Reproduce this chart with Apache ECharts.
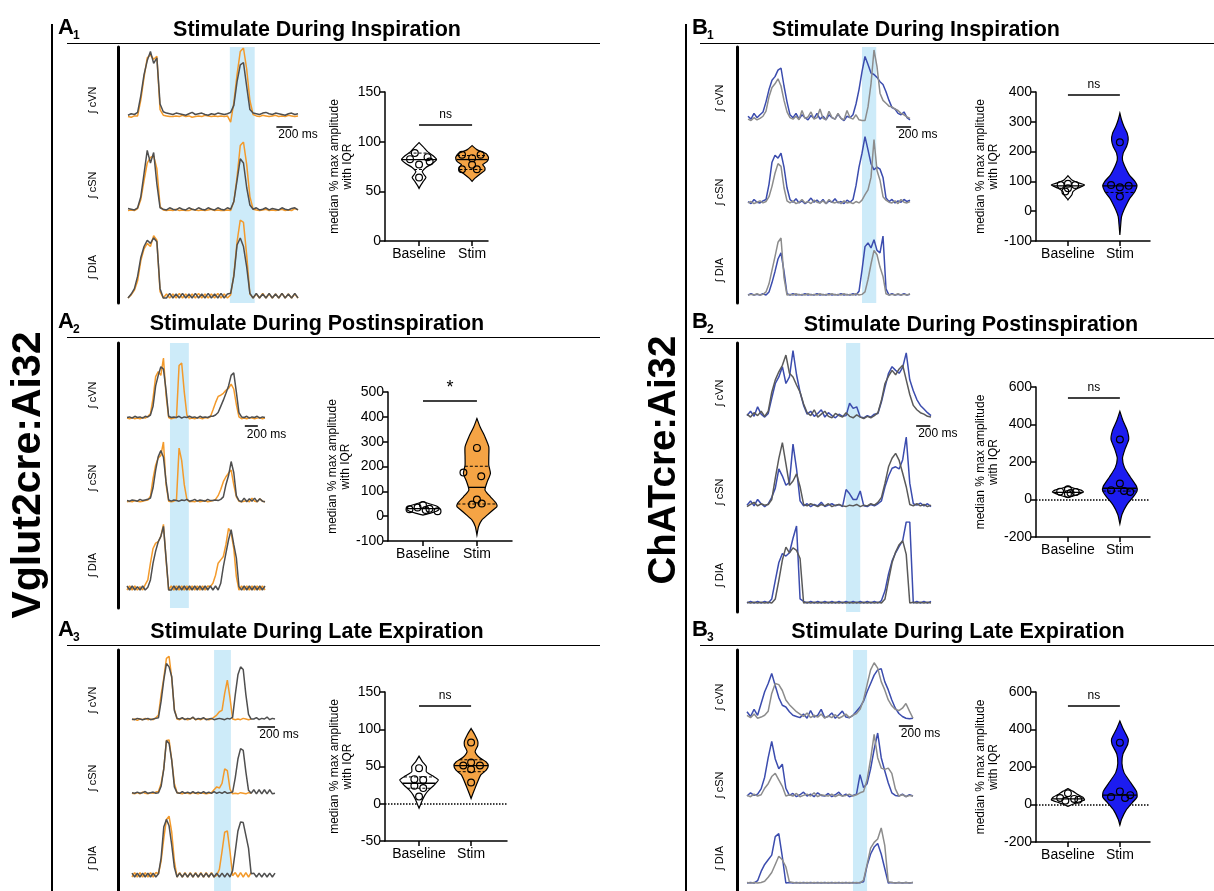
<!DOCTYPE html>
<html lang="en">
<head>
<meta charset="UTF-8">
<title>Optogenetic stimulation – Vglut2cre:Ai32 / ChATcre:Ai32</title>
<script src="https://cdn.jsdelivr.net/npm/echarts@6/dist/echarts.min.js"></script>
<style>
  html, body { margin: 0; padding: 0; background: #fff; }
  #chart { width: 1214px; height: 891px; }
</style>
</head>
<body>
<div id="chart"></div>
<script>
// ---------------- data ----------------
// traces: amplitude 0..100 relative to each row, one sample every dt ms
var rowNames = ['\u222B cVN', '\u222B cSN', '\u222B DIA'];
var groups = ['Baseline', 'Stim'];

// A1 – stimulate during inspiration (dt 40 ms)
var a1Shade = [1270, 1580];
var a1ScaleBar = [1850, 2050];
var a1CvnStim = [2,1,3,3, 26,58,86,90,84,88,12,4, 3,2,2,3,2,4,2,3,1,2,3,2,4,3,2,3,2,3,2,3, -6,22,62,95,100,70,25,5, 3,2,4,3,2,3,4,2,3,2,4,3,2,3];
var a1CvnCtrl = [4,6,5,8, 32,62,82,95,78,86,20,9, 7,6,5,7,6,5,4,6,8,5,6,7,5,4,6,5,7,6,5,6, 8,18,52,76,79,45,12,7, 6,5,7,8,6,5,7,6,5,4,6,7,5,6];
var a1CsnStim = [2,3,2,5, 18,45,70,78,80,62,8,3, 2,3,2,4,2,3,2,2,4,3,2,3,2,3,4,2,3,2,2,3, 2,15,50,95,100,68,22,4, 3,2,3,4,2,3,2,3,4,2,3,2,5,3];
var a1CsnCtrl = [5,4,3,6, 22,55,88,70,85,40,6,4, 3,6,4,3,6,4,3,6,4,3,6,4,3,6,4,3,6,4,3,6, 4,15,45,76,70,35,10,4, 6,3,4,6,3,5,4,3,6,4,3,5,6,3];
var a1DiaStim = [0,4,10,22, 48,63,70,66,80,74,8,0, 5,0,5,0,6,0,5,0,5,0,6,0,5,0,5,0,6,0,5,0, 4,30,72,100,97,55,5,0, 5,0,6,0,5,0,5,0,6,0,5,0,5,0];
var a1DiaCtrl = [0,5,12,28, 52,66,74,70,77,72,12,0, 0,6,0,5,0,6,0,5,0,6,0,5,0,6,0,5,0,6,0,5, 6,28,68,77,66,40,6,0, 6,0,5,0,6,0,5,0,6,0,5,0,6,0];

// A2 – stimulate during postinspiration (dt 40 ms)
var a2Shade = [660, 950];
var a2ScaleBar = [1810, 2010];
var a2CvnStim = [3,2,4,2,3,2,4,3,6, 10,35,70,78,72,100,40,4, 2,3, 4,88,92,45,8,2, 3,2,4,3,2,4,3,5, 16,28,38,40,43,48,51,58,50,25,5,2, 3,2,4,3,2,3,4,2,3];
var a2CvnCtrl = [4,5,3,6,4,5,3,6,5, 8,22,55,72,86,82,48,6, 4,5, 4,6,3,5,4,6, 4,5,3,6,4,5,4,6, 6,8,12,22,32,43,55,72,76,45,12,5, 4,6,3,5,4,6,3,5,4];
var a2CsnStim = [2,3,2,4,3,2,3,4,5, 11,40,62,74,78,100,30,3, 2,3, 5,90,70,30,6,2, 3,2,4,2,3,4,2,3, 4,6,12,22,35,43,49,54,30,10,3,2, 3,4,2,8,3,2,7,3,2];
var a2CsnCtrl = [4,3,5,4,3,6,4,5,6, 8,25,54,76,86,75,35,5, 3,5, 4,3,5,4,6,3, 4,6,3,5,4,3,6,4, 4,5,4,6,10,30,45,68,50,12,4,2, 8,2,7,3,8,2,7,3,2];
var a2DiaStim = [0,6,0,6,0,5,0,8, 15,40,62,70,72,80,98,45,0, 6,0,6,0,6,0,6,0,6,0,6,0,6,0,6, 5,10,22,40,45,50,68,92,85,62,20,0, 6,0,6,0,6,0,6,0,6,0];
var a2DiaCtrl = [6,0,6,0,5,0,6,0, 4,15,40,58,72,80,95,48,0, 0,6,0,6,0,6,0,6,0,6,0,6,0,6,0, 6,0,6,0,10,35,55,75,90,68,48,5, 0,6,0,6,0,6,0,6,0,6];

// A3 – stimulate during late expiration (dt 30 ms)
var a3Shade = [930, 1120];
var a3ScaleBar = [1420, 1620];
var a3CvnStim = [2,3,1,3,2,4,2,3,2,5, 9,40,65,95,98,65,18,3, 2,4,3,2,3,5,2,3,2,4,3,2,3, 6,9,14,16,42,62,35,3, 2,3,2,4,3,2,3];
var a3CvnCtrl = [3,2,4,3,2,3,4,2,3,4, 5,30,62,87,82,67,16,4, 3,5,2,4,3,6,2,4,3,5,2,3,4,2,3,4,3,2,4,3, 6,40,70,82,78,40,10,3, 3,5,2,4,3,6,2,4,3];
var a3CsnStim = [3,2,4,2,5,3,2,4,3,5, 6,20,45,94,95,60,20,4, 3,2,4,3,2,4,3,2,4,3,2,3,4, 9,14,12,20,45,42,10,2, 3,2,4,3,2,4,3];
var a3CsnCtrl = [4,3,5,3,4,6,3,4,5,3, 4,15,45,94,89,60,14,4, 3,6,3,5,3,6,3,5,3,6,3,5,3,6,3,5,3,6,3,4, 5,30,62,80,77,40,8,3, 9,2,9,2,9,2,9,2,3];
var a3DiaStim = [0,7,0,7,0,7,0,7,0,7, 5,25,60,90,95,70,25,0, 7,0,7,0,7,0,7,0,7,0,7,0,7,0, 3,12,40,70,72,40,2, 7,0,7,0,7,0,7];
var a3DiaCtrl = [6,0,6,0,6,0,6,0,6,0, 5,30,78,90,80,50,15,0, 6,0,6,0,6,0,6,0,6,0,6,0,6,0,6,0,6,0,6,0, 10,40,72,86,85,65,45,5, 6,0,6,0,6,0,6,0,6];

// B1 – stimulate during inspiration (dt 40 ms)
var b1Shade = [1520, 1710];
var b1ScaleBar = [1975, 2175];
var b1CvnStim = [8,4,12,6,10,14, 28,45,58,63,72,75,50,28,10, 6,12,4,10,6,3,9,5,12,4,8,3,10,6,4,11,5,2,8,6,10, 25,45,70,91,80,68,66,62,56,52,42,30,20,18,12,10,14,6,3];
var b1CvnCtrl = [4,2,6,3,5,8, 15,35,48,53,60,50,30,14,6, 4,8,3,16,5,7,14,4,6,18,5,3,15,6,4,12,5,3,16,6,4,10,3,2, 2,21,53,100,77,40,30,26,22,21,18,16,12,10,7,5];
var b1CsnStim = [5,2,8,4,3,6, 8,30,62,72,68,75,55,25, 8,4,9,3,6,2,5,10,4,7,3,8,2,6,4,9,3,5,2,7,4,8, 28,55,75,99,80,60,51,55,52,40,10,5,8,3,6,4,8,5,7];
var b1CsnCtrl = [3,5,2,4,6,3, 5,12,27,46,60,56,25,6, 3,6,2,4,8,3,5,2,7,4,3,6,2,8,4,3,5,2,6,3,4,2,5,3, 7,15,22,40,95,50,36,12,7,4,3,6,2,8,4,3,5];
var b1DiaStim = [0,2,0,1,0,2,0, 5,20,38,58,68,38,2, 0,2,0,1,0,2,0,1,0,2,0,1,0,2,0,1,0,2,0,1,0,2,0, 6,40,78,84,76,89,72,68,95,10, 0,2,0,1,0,2,0,1];
var b1DiaCtrl = [0,1,0,2,0,1, 5,18,40,62,85,92,28,0, 1,0,2,0,1,0,2,0,1,0,2,0,1,0,2,0,1,0,2,0,1,0,2,0,1, 5,25,50,72,65,45,30,2, 0,1,0,2,0,1,0,2];

// B2 – stimulate during postinspiration (dt 50 ms)
var b2Shade = [1400, 1600];
var b2ScaleBar = [2390, 2590];
var b2CvnStim = [6,12,5,18,8,4, 9,30,50,59,73,50,59,95,62,38,20, 8,12,5,9,14,4,10,6,3,8,5, 6,23,16,18,4, 3,6,4,8, 9,25,45,64,73,68,64,72,92,55,40,28,20,15,10,6];
var b2CvnCtrl = [8,4,10,6,12,5, 12,38,55,66,75,89,64,59,48,38,22, 10,6,14,4,8,12,5,3,9,6,4,10,5,3,7,4,2,5,3,6, 10,27,50,60,68,62,70,75,55,35,20,14,10,8,5,4];
var b2CsnStim = [4,10,3,12,6,2, 6,15,28,55,45,32,36,90,55,10, 3,6,2,5,3,8,2,4,6,3,5,2, 26,20,12,12,24,3, 2,5,3,6,10, 30,45,56,58,55,68,100,35,6, 4,7,3,6,2];
var b2CsnCtrl = [2,5,8,3,6,4, 5,12,42,70,92,62,32,38,48,30, 5,3,6,4,2,5,3,6,2,4,5,3,2,4,3,5,2,4,3,6,4,8, 15,35,58,70,77,67,49,30,5,3, 6,3,5,2,4];
var b2DiaStim = [0,2,0,2,0,2,0, 5,28,50,61,58,62,80,95,5, 2,0,2,0,2,0,2,0,2,0,2,0,2,0,2,0,2,0,2,0,2,0, 3,15,36,52,62,70,77,100,100, 0,2,0,2,0,2];
var b2DiaCtrl = [1,0,1,0,1,0,1,0, 5,28,53,69,62,68,65,55,0, 1,0,1,0,1,0,1,0,1,0,1,0,1,0,1,0,1,0,1,0,1,0, 5,28,50,63,72,77,60,0, 1,0,1,0,1,0];

// B3 – stimulate during late expiration (dt 50 ms)
var b3Shade = [1500, 1700];
var b3ScaleBar = [2150, 2350];
var b3CvnStim = [14,6,18,8, 28,48,62,79,58,38,25,22,14,8,6, 4,10,3,16,5,8,18,4,6,12,3,9,15,5,4,8, 15,22,32,48,62,76,85,87,65,51,34,20,11,6,3,2,3];
var b3CvnCtrl = [8,4,10,3, 5,8,15,45,62,60,50,34,26,20,14, 10,6,12,4,8,5,10,3,7,4,9,3,6,10,4,8,11, 18,34,60,85,97,88,65,51,34,24,18,16,20,28,15,3];
var b3CsnStim = [3,8,4,6, 14,32,62,87,60,45,52,15, 4,7,2,5,9,3,6,2,8,4,3,7,2,5,9,3,6,2,4, 6,36,16,22,45,75,100,62,42,23,8,4, 3,6,2,5,3];
var b3CsnCtrl = [4,2,6,3, 5,15,22,33,38,28,18,3, 5,3,7,2,4,6,3,8,2,5,4,3,6,2,5,3,4,6,3,5,8, 10,28,60,98,62,46,44,46,38,14,3,5,2,4,3];
var b3DiaStim = [0,1,0, 4,20,32,40,48,80,85,45,0, 1,0,1,0,1,0,1,0,1,0,1,0,1,0,1,0,1,0,1,0,1,2, 30,50,62,68,50,25,0, 1,0,1,0,1,0,1];
var b3DiaCtrl = [1,0,1,0,1, 3,10,18,32,46,40,28,2, 1,0,1,0,1,0,1,0,1,0,1,0,1,0,1,0,1,0,1,0, 5,32,60,70,76,95,65,2, 1,0,1,0,1,0,1];

// violins: shape = [value, half width in % of group spacing], pts = [value, x offset], lines = [median, quartiles...]
var a1YTicks = [0, 50, 100, 150];
var a1BaseShape = [[99,0],[95,7.5],[90,16],[86,26],[82,33],[78,25],[74,13],[70,6],[67,9],[64,13],[60,8],[56,3],[53,0]];
var a1StimShape = [[96,0],[92,9],[88,26],[84,31],[80,28],[77,20],[74,24],[71,24],[67,14],[63,5],[60,0]];
var a1BasePts = [[88.5,-0.08],[82.4,-0.17],[84.4,0.16],[80,0.2],[77,0],[64,0]];
var a1StimPts = [[86.8,-0.19],[83.4,0],[86.8,0.16],[76.7,0],[72.3,-0.19],[72.3,0.09]];
var a1BaseLines = [82, 88.5, 72];
var a1StimLines = [82, 86, 72];
var a1Sig = ['ns', 117];

var a2YTicks = [-100, 0, 100, 200, 300, 400, 500];
var a2BaseShape = [[58,0],[50,12],[42,24],[35,29],[28,30],[20,25],[12,14],[4,0]];
var a2StimShape = [[393,0],[359,6],[319,15],[279,22],[239,22],[205,22],[172,25],[138,19],[105,15],[78,25],[51,36],[38,37],[27,31],[4,19],[-16,9],[-42,3],[-76,0]];
var a2BasePts = [[45,0],[35,-0.1],[28,-0.25],[30,0.12],[20,0.27],[25,0.05]];
var a2StimPts = [[275,0],[176,-0.25],[161,0.08],[67,0],[47,-0.09],[51,0.09]];
var a2BaseLines = [30];
var a2StimLines = [116, 201, 49];
var a2Sig = ['*', 464];

var a3YTicks = [-50, 0, 50, 100, 150];
var a3BaseShape = [[64,0],[57,6],[50,14],[43,14],[37.5,26],[32,37],[25,29],[18.6,19],[12,11.5],[5,6.4],[-1.6,2.6],[-6,0]];
var a3StimShape = [[101,0],[92,7.7],[84,12.8],[78,12.8],[70,7.7],[62,16],[56,29],[51,33],[45,29],[39,19],[30,12.8],[21,7.7],[13,3.2],[7,0]];
var a3BasePts = [[47.8,0],[33,-0.09],[32,0.08],[24,-0.09],[21,0.08],[9.6,0]];
var a3StimPts = [[82.3,0],[55.4,0],[51.3,-0.15],[51.3,0.17],[46.4,0],[28.5,0]];
var a3BaseLines = [27.5, 36, 20.8];
var a3StimLines = [51.3, 59, 43];
var a3Sig = ['ns', 131];

var b1YTicks = [-100, 0, 100, 200, 300, 400];
var b1BaseShape = [[119,0],[105,7.7],[96,19],[88,32],[77,19],[66,9.6],[55,7.7],[43,2],[38,0]];
var b1StimShape = [[329,0],[307,3.2],[285,7.7],[262,14],[240,16],[217,12.8],[195,6.4],[172,5],[150,9.6],[122,18],[100,29],[85,33],[66,29],[43,19],[27,14],[4,7.7],[-18,3.2],[-52,1.3],[-80,0]];
var b1BasePts = [[88,-0.14],[92,0],[88,0.14],[77,0],[66,-0.05]];
var b1StimPts = [[231,0],[88,-0.17],[80,0],[85,0.17],[49,0]];
var b1BaseLines = [85];
var b1StimLines = [85, 63];
var b1Sig = ['ns', 390];

var b2YTicks = [-200, 0, 200, 400, 600];
var b2BaseShape = [[70,0],[60,12],[50,25],[40,30],[30,22],[20,12],[10,0]];
var b2StimShape = [[470,0],[420,6],[370,14],[320,17],[270,10],[220,5],[170,9],[120,20],[70,32],[45,33],[15,26],[-30,13],[-80,4],[-130,0]];
var b2BasePts = [[55,0],[42,-0.15],[40,0.15],[30,0],[35,0.05]];
var b2StimPts = [[320,0],[85,0],[50,-0.17],[45,0.08],[40,0.2]];
var b2BaseLines = [38];
var b2StimLines = [60, 45];
var b2Sig = ['ns', 545];

var b3YTicks = [-200, 0, 200, 400, 600];
var b3BaseShape = [[85,0],[70,10],[55,18],[40,28],[25,32],[12,20],[0,8],[-10,0]];
var b3StimShape = [[445,0],[400,7],[350,16],[320,15],[270,6],[220,4],[170,8],[120,20],[70,32],[40,33],[10,24],[-30,12],[-80,3],[-110,0]];
var b3BasePts = [[60,0],[35,-0.15],[30,0.12],[20,-0.05],[25,0.2]];
var b3StimPts = [[330,0],[70,0],[40,-0.17],[35,0.1],[50,0.2]];
var b3BaseLines = [30];
var b3StimLines = [50];
var b3Sig = ['ns', 525];

// ---------------- styles & layout ----------------
var FONT = '"Liberation Sans", Arial, sans-serif';
var ORANGE = '#f39a2b';
var DARK_GREY = '#4f4f4f';
var BLUE = '#3b4cae';
var GREY = '#8c8c8c';
var SHADE = '#cdebf9';
var VIOLIN_ORANGE = '#f5a445';
var VIOLIN_BLUE = '#1c1cf0';

var panels = [
  { dt: 40, xMax: 2120, left: 128, width: 170, barX: 118, spanTop: 47, spanBottom: 303,
    rows: [[48, 118], [142, 212], [220, 298]], labelX: 93, labelY: [100, 185, 267],
    stim: [a1CvnStim, a1CsnStim, a1DiaStim], ctrl: [a1CvnCtrl, a1CsnCtrl, a1DiaCtrl],
    shade: a1Shade, bar: a1ScaleBar, barY: -13, stimColor: ORANGE, ctrlColor: DARK_GREY },
  { dt: 40, xMax: 2120, left: 127, width: 138, barX: 118, spanTop: 343, spanBottom: 608,
    rows: [[358, 420], [442, 503], [523, 590]], labelX: 93, labelY: [395, 478, 565],
    stim: [a2CvnStim, a2CsnStim, a2DiaStim], ctrl: [a2CvnCtrl, a2CsnCtrl, a2DiaCtrl],
    shade: a2Shade, bar: a2ScaleBar, barY: -10, stimColor: ORANGE, ctrlColor: DARK_GREY },
  { dt: 30, xMax: 1620, left: 132, width: 143, barX: 118, spanTop: 650, spanBottom: 891,
    rows: [[655, 721], [737, 795], [813, 877]], labelX: 93, labelY: [700, 778, 858],
    stim: [a3CvnStim, a3CsnStim, a3DiaStim], ctrl: [a3CvnCtrl, a3CsnCtrl, a3DiaCtrl],
    shade: a3Shade, bar: a3ScaleBar, barY: -8, stimColor: ORANGE, ctrlColor: DARK_GREY },
  { dt: 40, xMax: 2200, left: 748, width: 165, barX: 737, spanTop: 47, spanBottom: 303,
    rows: [[50, 122], [136, 205], [233, 295]], labelX: 720, labelY: [98, 192, 270],
    stim: [b1CvnStim, b1CsnStim, b1DiaStim], ctrl: [b1CvnCtrl, b1CsnCtrl, b1DiaCtrl],
    shade: b1Shade, bar: b1ScaleBar, barY: -7, stimColor: BLUE, ctrlColor: GREY },
  { dt: 50, xMax: 2600, left: 747, width: 184, barX: 737, spanTop: 343, spanBottom: 612,
    rows: [[347, 420], [437, 508], [522, 603]], labelX: 720, labelY: [393, 492, 575],
    stim: [b2CvnStim, b2CsnStim, b2DiaStim], ctrl: [b2CvnCtrl, b2CsnCtrl, b2DiaCtrl],
    shade: b2Shade, bar: b2ScaleBar, barY: -8, stimColor: BLUE, ctrlColor: '#5a5a5a' },
  { dt: 50, xMax: 2350, left: 747, width: 166, barX: 737, spanTop: 650, spanBottom: 891,
    rows: [[661, 720], [733, 798], [825, 883]], labelX: 720, labelY: [697, 785, 858],
    stim: [b3CvnStim, b3CsnStim, b3DiaStim], ctrl: [b3CvnCtrl, b3CsnCtrl, b3DiaCtrl],
    shade: b3Shade, bar: b3ScaleBar, barY: -9, stimColor: BLUE, ctrlColor: GREY }
];

var violins = [
  { left: 385, top: 92, width: 103, height: 149, xMin: 0.358, xMax: 2.30, ticks: a1YTicks,
    shapes: [a1BaseShape, a1StimShape], pts: [a1BasePts, a1StimPts], lines: [a1BaseLines, a1StimLines],
    sig: a1Sig, zero: false, fill: ['#fff', VIOLIN_ORANGE] },
  { left: 388, top: 392, width: 124, height: 149, xMin: 0.352, xMax: 2.65, ticks: a2YTicks,
    shapes: [a2BaseShape, a2StimShape], pts: [a2BasePts, a2StimPts], lines: [a2BaseLines, a2StimLines],
    sig: a2Sig, zero: false, fill: ['#fff', VIOLIN_ORANGE] },
  { left: 385, top: 692, width: 122, height: 149, xMin: 0.346, xMax: 2.69, ticks: a3YTicks,
    shapes: [a3BaseShape, a3StimShape], pts: [a3BasePts, a3StimPts], lines: [a3BaseLines, a3StimLines],
    sig: a3Sig, zero: true, fill: ['#fff', VIOLIN_ORANGE] },
  { left: 1036, top: 92, width: 114, height: 149, xMin: 0.385, xMax: 2.58, ticks: b1YTicks,
    shapes: [b1BaseShape, b1StimShape], pts: [b1BasePts, b1StimPts], lines: [b1BaseLines, b1StimLines],
    sig: b1Sig, zero: false, fill: ['#fff', VIOLIN_BLUE] },
  { left: 1036, top: 387, width: 114, height: 150, xMin: 0.385, xMax: 2.58, ticks: b2YTicks,
    shapes: [b2BaseShape, b2StimShape], pts: [b2BasePts, b2StimPts], lines: [b2BaseLines, b2StimLines],
    sig: b2Sig, zero: true, fill: ['#fff', VIOLIN_BLUE] },
  { left: 1036, top: 692, width: 114, height: 150, xMin: 0.385, xMax: 2.58, ticks: b3YTicks,
    shapes: [b3BaseShape, b3StimShape], pts: [b3BasePts, b3StimPts], lines: [b3BaseLines, b3StimLines],
    sig: b3Sig, zero: true, fill: ['#fff', VIOLIN_BLUE] }
];

var grids = [], xAxes = [], yAxes = [], series = [], graphics = [];

function addGrid(grid, xAxis, yAxis) {
  var idx = grids.length;
  grid.outerBoundsMode = 'none';
  grid.containLabel = false;
  grids.push(grid);
  xAxis.gridIndex = idx;
  yAxis.gridIndex = idx;
  xAxes.push(xAxis);
  yAxes.push(yAxis);
  return idx;
}

function toPoints(arr, dt) {
  return arr.map(function (v, i) { return [i * dt, v]; });
}

// ---------- trace panels ----------
panels.forEach(function (p) {
  // shading + black vertical bar spanning the three rows
  var s = addGrid(
    { left: p.left, width: p.width, top: p.spanTop, height: p.spanBottom - p.spanTop },
    { type: 'value', min: 0, max: p.xMax, show: false },
    { type: 'value', min: 0, max: 1, show: true, offset: p.left - p.barX,
      axisLine: { show: true, onZero: false, lineStyle: { color: '#000', width: 3 } },
      axisTick: { show: false }, axisLabel: { show: false }, splitLine: { show: false } }
  );
  series.push({
    type: 'line', xAxisIndex: s, yAxisIndex: s, data: [[0, -1]], showSymbol: false,
    lineStyle: { opacity: 0 }, silent: true, z: 1,
    markArea: { silent: true, itemStyle: { color: SHADE }, data: [[{ xAxis: p.shade[0] }, { xAxis: p.shade[1] }]] }
  });

  p.rows.forEach(function (r, k) {
    var h = (r[1] - r[0]) * 1.2;
    var g = addGrid(
      { left: p.left, width: p.width, top: r[0], height: h },
      { type: 'value', min: 0, max: p.xMax, show: false },
      { type: 'value', min: -20, max: 100, show: false }
    );
    var stimSeries = {
      type: 'line', xAxisIndex: g, yAxisIndex: g, data: toPoints(p.stim[k], p.dt),
      showSymbol: false, silent: true, z: 3,
      lineStyle: { color: p.stimColor, width: 1.5 }
    };
    if (k === 0) {
      stimSeries.markLine = {
        silent: true, symbol: ['none', 'none'], animation: false,
        lineStyle: { color: '#000', width: 1.5, type: 'solid' },
        label: { show: true, position: 'insideStartBottom', formatter: '200 ms', color: '#000',
                 fontSize: 12, fontFamily: FONT, distance: 2 },
        data: [[{ coord: [p.bar[0], p.barY] }, { coord: [p.bar[1], p.barY] }]]
      };
    }
    series.push(stimSeries);
    series.push({
      type: 'line', xAxisIndex: g, yAxisIndex: g, data: toPoints(p.ctrl[k], p.dt),
      showSymbol: false, silent: true, z: 4,
      lineStyle: { color: p.ctrlColor, width: 1.5 }
    });
    graphics.push({
      type: 'text', x: p.labelX, y: p.labelY[k], rotation: Math.PI / 2,
      style: { text: rowNames[k], fontSize: 11, fontFamily: FONT, fill: '#000', align: 'center', verticalAlign: 'middle' }
    });
  });
});

// ---------- violin plots ----------
function halfWidthAt(shape, v) {
  for (var i = 0; i < shape.length - 1; i++) {
    var a = shape[i], b = shape[i + 1];
    if (v <= a[0] && v >= b[0]) {
      var t = (a[0] - v) / ((a[0] - b[0]) || 1);
      return a[1] + (b[1] - a[1]) * t;
    }
  }
  return 0;
}

function violinRenderer(cfg) {
  return function (params, api) {
    var gi = params.dataIndex;
    var cx = api.value(0);
    var unit = api.size([1, 0])[0];
    var shape = cfg.shapes[gi];
    var right = [], left = [];
    shape.forEach(function (q) {
      var c = api.coord([cx, q[0]]);
      var hw = q[1] / 100 * unit;
      right.push([c[0] + hw, c[1]]);
      left.unshift([c[0] - hw, c[1]]);
    });
    var kids = [{
      type: 'polygon', shape: { points: right.concat(left), smooth: 0.2 },
      style: { fill: cfg.fill[gi], stroke: '#000', lineWidth: 1.2 }
    }];
    cfg.lines[gi].forEach(function (v, k) {
      var c = api.coord([cx, v]);
      var hw = halfWidthAt(shape, v) / 100 * unit;
      var st = { stroke: '#000', lineWidth: k === 0 ? 1.3 : 1 };
      if (k > 0) st.lineDash = [3, 2];
      kids.push({ type: 'line', shape: { x1: c[0] - hw, y1: c[1], x2: c[0] + hw, y2: c[1] }, style: st });
    });
    cfg.pts[gi].forEach(function (q) {
      var c = api.coord([cx + q[1], q[0]]);
      kids.push({ type: 'circle', shape: { cx: c[0], cy: c[1], r: 3.4 },
                  style: { fill: 'none', stroke: '#000', lineWidth: 1.2 } });
    });
    return { type: 'group', children: kids };
  };
}

violins.forEach(function (v) {
  var t = v.ticks;
  var g = addGrid(
    { left: v.left, top: v.top, width: v.width, height: v.height },
    { type: 'value', min: v.xMin, max: v.xMax,
      axisLine: { show: true, onZero: false, lineStyle: { color: '#000', width: 1.5 } },
      axisTick: { show: true, customValues: [1, 2], length: 5, lineStyle: { color: '#000', width: 1.5 } },
      axisLabel: { show: true, customValues: [1, 2], color: '#000', fontSize: 14, fontFamily: FONT, margin: 6,
                   formatter: function (val) { return groups[Math.round(val) - 1] || ''; } },
      splitLine: { show: false } },
    { type: 'value', min: t[0], max: t[t.length - 1], interval: t[1] - t[0],
      name: 'median % max amplitude\nwith IQR', nameLocation: 'middle', nameGap: 30, nameRotate: 90,
      nameTextStyle: { color: '#000', fontSize: 12, fontFamily: FONT, lineHeight: 13 },
      axisLine: { show: true, onZero: false, lineStyle: { color: '#000', width: 1.5 } },
      axisTick: { show: true, length: 5, lineStyle: { color: '#000', width: 1.5 } },
      axisLabel: { color: '#000', fontSize: 14, fontFamily: FONT, margin: 4 },
      splitLine: { show: false } }
  );
  var ml = [[{ coord: [1, v.sig[1]] }, { coord: [2, v.sig[1]] }]];
  if (v.zero) ml.push({ yAxis: 0, lineStyle: { type: 'dotted', width: 1.5 }, label: { show: false } });
  series.push({
    type: 'custom', xAxisIndex: g, yAxisIndex: g, silent: true, z: 5,
    data: [[1, 0], [2, 0]],
    renderItem: violinRenderer(v),
    markLine: {
      silent: true, symbol: ['none', 'none'], animation: false,
      lineStyle: { color: '#000', width: 1.5, type: 'solid' },
      label: { show: true, position: 'insideMiddleTop', formatter: v.sig[0], color: '#000',
               fontSize: v.sig[0] === '*' ? 18 : 12, fontFamily: FONT, distance: 4 },
      data: ml
    }
  });
});

// ---------- headings, frames ----------
function text(x, y, str, size, bold, align, rot) {
  graphics.push({
    type: 'text', x: x, y: y, rotation: rot || 0,
    style: { text: str, fontSize: size, fontWeight: bold ? 'bold' : 'normal', fontFamily: FONT,
             fill: '#000', align: align || 'center', verticalAlign: 'middle' }
  });
}
function line(x1, y1, x2, y2, w) {
  graphics.push({ type: 'line', shape: { x1: x1, y1: y1, x2: x2, y2: y2 }, style: { stroke: '#000', lineWidth: w } });
}

line(52, 24, 52, 891, 2);
line(686, 24, 686, 891, 2);
text(29, 475, 'Vglut2cre:Ai32', 41, true, 'center', Math.PI / 2);
text(664, 460, 'ChATcre:Ai32', 38.5, true, 'center', Math.PI / 2);

var heads = [
  ['A', '1', 58, 28, 317, 30, 43.5, 67, 600, 'Stimulate During Inspiration'],
  ['A', '2', 58, 322, 317, 324, 337.5, 67, 600, 'Stimulate During Postinspiration'],
  ['A', '3', 58, 630, 317, 632, 645.5, 67, 600, 'Stimulate During Late Expiration'],
  ['B', '1', 692, 28, 916, 30, 43.5, 700, 1214, 'Stimulate During Inspiration'],
  ['B', '2', 692, 322, 971, 325, 338.5, 700, 1214, 'Stimulate During Postinspiration'],
  ['B', '3', 692, 630, 958, 632, 645.5, 700, 1214, 'Stimulate During Late Expiration']
];
heads.forEach(function (h) {
  text(h[2], h[3], h[0], 22, true, 'left');
  text(h[2] + 15, h[3] + 8, h[1], 12, true, 'left');
  text(h[4], h[5], h[9], 21.5, true, 'center');
  line(h[7], h[6], h[8], h[6], 1.2);
});

var chart = echarts.init(document.getElementById('chart'));
chart.setOption({
  animation: false,
  backgroundColor: '#fff',
  textStyle: { fontFamily: FONT },
  grid: grids,
  xAxis: xAxes,
  yAxis: yAxes,
  series: series,
  graphic: graphics
});
</script>
</body>
</html>
